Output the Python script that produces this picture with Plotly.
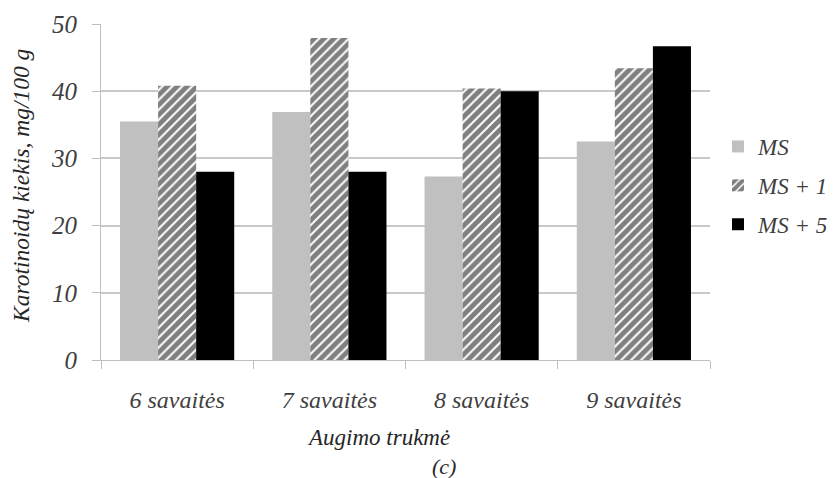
import plotly.graph_objects as go

categories = ["6 savaitės", "7 savaitės", "8 savaitės", "9 savaitės"]
series_names = ["MS", "MS + 1", "MS + 5"]
ms = [35.5, 36.9, 27.3, 32.5]
ms1 = [40.8, 47.9, 40.4, 43.4]
ms5 = [28.0, 28.0, 40.0, 46.7]
y_ticks = [0, 10, 20, 30, 40, 50]

FONT = "'Liberation Serif', 'Times New Roman', 'DejaVu Serif', serif"

fig = go.Figure()
fig.add_trace(go.Bar(name=series_names[0], x=categories, y=ms, legendgroup="a",
                     marker=dict(color="#c0c0c0", line=dict(width=0))))
fig.add_trace(go.Bar(name=series_names[1], x=categories, y=ms1, legendgroup="b",
                     marker=dict(color="white", line=dict(width=0),
                                 pattern=dict(shape="/", fgcolor="black", bgcolor="white",
                                              size=7, solidity=0.72))))
fig.add_trace(go.Bar(name=series_names[2], x=categories, y=ms5, legendgroup="c",
                     marker=dict(color="black", line=dict(width=0))))

L, R, T, B = 101, 710, 24, 360

fig.update_layout(
    width=833, height=478,
    margin=dict(l=L, r=833 - R, t=T, b=478 - B, autoexpand=False),
    paper_bgcolor="white", plot_bgcolor="white",
    barmode="group", bargap=0.25, bargroupgap=0,
    font=dict(family=FONT, color="#404040"),
    showlegend=True,
    legend=dict(xref="container", yref="container", x=718 / 833, y=1 - 125 / 478,
                xanchor="left", yanchor="top",
                font=dict(family=FONT, size=23, color="#404040", style="italic"),
                tracegroupgap=6, itemwidth=30, bgcolor="rgba(0,0,0,0)"),
    xaxis=dict(showgrid=False, ticks="outside", tickson="boundaries", ticklen=8,
               tickcolor="#bfbfbf", showline=True, linecolor="#bfbfbf",
               tickfont=dict(family=FONT, size=24, color="#404040", style="italic"),
               ticklabelstandoff=18),
    yaxis=dict(range=[0, 50], tickvals=y_ticks, showgrid=True, gridcolor="#c8c8c8",
               gridwidth=1.5, ticks="outside", ticklen=8, tickcolor="#bfbfbf",
               showline=True, linecolor="#bfbfbf", zeroline=False,
               tickfont=dict(family=FONT, size=25, color="#404040", style="italic"),
               ticklabelstandoff=10),
)


def px(x):
    return (x - L) / (R - L)


def py(y):
    return (B - y) / (B - T)


fig.add_annotation(text="Augimo trukmė", x=px(378), y=py(437), xref="paper", yref="paper",
                   xanchor="center", yanchor="middle", showarrow=False,
                   font=dict(family=FONT, size=23, color="#262626", style="italic"))
fig.add_annotation(text="(c)", x=px(444), y=py(466), xref="paper", yref="paper",
                   xanchor="center", yanchor="middle", showarrow=False,
                   font=dict(family=FONT, size=22, color="#262626", style="italic"))
fig.add_annotation(text="Karotinoidų kiekis, mg/100 g", x=px(21), y=py(186), xref="paper", yref="paper",
                   xanchor="center", yanchor="middle", showarrow=False, textangle=-90,
                   font=dict(family=FONT, size=23.5, color="#262626", style="italic"))

fig.write_html("out.html", config={"displayModeBar": False},
               post_script="document.body.style.margin='0';")
